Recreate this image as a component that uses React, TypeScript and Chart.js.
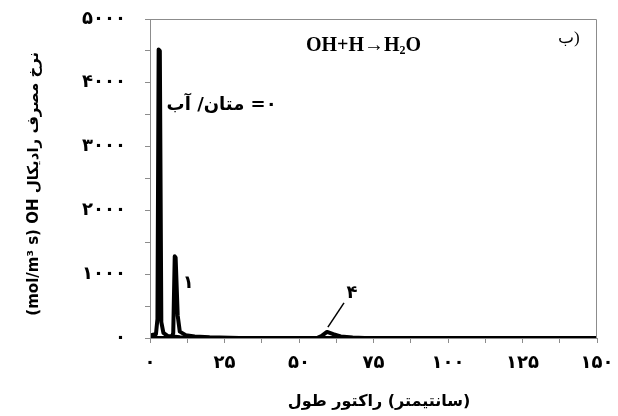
import React, { useEffect, useRef } from 'react';
import { Chart, registerables } from 'chart.js';

Chart.register(...registerables);

// Reactor length (cm) vs OH consumption rate (mol/m3 s)
const x0 = [0, 1, 2, 2.5, 2.9, 3.3, 3.8, 4.5, 6, 10, 20, 150];
const y0 = [40, 50, 60, 300, 4520, 4500, 250, 80, 30, 10, 0, 0];

const x1 = [0, 7.3, 7.8, 8.3, 8.6, 9.3, 10, 12, 15, 20, 30, 150];
const y1 = [0, 0, 80, 1280, 1260, 350, 100, 45, 25, 10, 0, 0];

const x4 = [0, 56, 57.5, 59.4, 61.5, 64, 68, 72, 150];
const y4 = [0, 0, 30, 95, 60, 25, 8, 0, 0];

const xTickLabels = ['۰', '۲۵', '۵۰', '۷۵', '۱۰۰', '۱۲۵', '۱۵۰'];
const yTickLabels = ['۰', '۱۰۰۰', '۲۰۰۰', '۳۰۰۰', '۴۰۰۰', '۵۰۰۰'];

const seriesNames = ['۰= متان/ آب', '۱', '۴'];
const xTitle = '\u00A0\u00A0طول\u200E \u200Eراکتور\u200E (\u200Eسانتیمتر\u200E)';
const yTitle = '(mol/m³ s) OH نرخ مصرف رادیکال\u00A0\u00A0';

const toPts = (xs: number[], ys: number[]) => xs.map((x, i) => ({ x, y: ys[i] }));

const GRAY = '#8c8c8c';

const overlay = {
  id: 'overlay',
  afterDatasetsDraw(chart: any) {
    const { ctx, chartArea: a, scales } = chart;
    const xs = scales.x;
    const ys = scales.y;
    ctx.save();
    // frame
    ctx.strokeStyle = GRAY;
    ctx.lineWidth = 1;
    ctx.beginPath();
    ctx.moveTo(a.left + 0.5, a.bottom);
    ctx.lineTo(a.left + 0.5, a.top + 0.5);
    ctx.lineTo(a.right - 0.5, a.top + 0.5);
    ctx.lineTo(a.right - 0.5, a.bottom);
    ctx.stroke();

    ctx.fillStyle = '#000';
    ctx.textBaseline = 'middle';
    // series labels
    ctx.font = 'bold 18px "DejaVu Sans", sans-serif';
    ctx.direction = 'rtl';
    ctx.textAlign = 'right';
    ctx.fillText(seriesNames[0], xs.getPixelForValue(42.5), ys.getPixelForValue(3650));
    ctx.direction = 'ltr';
    ctx.textAlign = 'center';
    ctx.fillText(seriesNames[1], xs.getPixelForValue(12.8), ys.getPixelForValue(860));
    ctx.fillText(seriesNames[2], xs.getPixelForValue(67.8), ys.getPixelForValue(700));
    // leader line
    ctx.strokeStyle = '#000';
    ctx.lineWidth = 1.5;
    ctx.beginPath();
    ctx.moveTo(xs.getPixelForValue(65.1), ys.getPixelForValue(550));
    ctx.lineTo(xs.getPixelForValue(59.7), ys.getPixelForValue(170));
    ctx.stroke();

    // reaction title
    ctx.textAlign = 'left';
    ctx.textBaseline = 'alphabetic';
    const big = 'bold 20px "Liberation Serif", serif';
    const small = 'bold 12px "Liberation Serif", serif';
    let px = 306;
    const py = 51;
    const parts: [string, string, number][] = [
      ['OH+H', big, 0],
      ['→', big, 0],
      ['H', big, 0],
      ['2', small, 3],
      ['O', big, 0],
    ];
    for (const [t, f, dy] of parts) {
      ctx.font = f;
      ctx.fillText(t, px, py + dy);
      px += ctx.measureText(t).width;
    }
    ctx.font = '17px "Liberation Serif", "DejaVu Serif", serif';
    ctx.fillText('ب\u200E)', 558, 43);
    ctx.restore();
  },
};

export default function App() {
  const ref = useRef<HTMLCanvasElement>(null);
  useEffect(() => {
    if (!ref.current) return;
    const tickFont = { family: '"DejaVu Sans", sans-serif', size: 18, weight: 'bold' as const };
    const chart = new Chart(ref.current, {
      type: 'line',
      data: {
        datasets: [
          { data: toPts(x0, y0) },
          { data: toPts(x1, y1) },
          { data: toPts(x4, y4) },
        ].map((d) => ({
          ...d,
          borderColor: '#000',
          backgroundColor: '#000',
          borderWidth: 4,
          pointRadius: 0,
          tension: 0,
          borderJoinStyle: 'round' as const,
          fill: false,
        })),
      },
      options: {
        responsive: false,
        animation: false,
        layout: { padding: { top: 19, right: 21, left: 0, bottom: 0 } },
        plugins: { legend: { display: false }, tooltip: { enabled: false } },
        scales: {
          x: {
            type: 'linear',
            min: 0,
            max: 150,
            afterFit: (s: any) => { s.height = 78; s.paddingLeft = 0; s.paddingRight = 0; },
            border: { display: true, color: GRAY },
            grid: { drawOnChartArea: false, drawTicks: true, tickLength: 5, color: GRAY },
            ticks: {
              stepSize: 12.5,
              autoSkip: false,
              maxRotation: 0,
              padding: 10,
              color: '#000',
              font: tickFont,
              callback: (v: any) => (Number(v) % 25 === 0 ? xTickLabels[Number(v) / 25] : ''),
            },
            title: {
              display: true,
              text: xTitle,
              color: '#000',
              font: { family: '"DejaVu Sans", sans-serif', size: 16, weight: 'bold' },
              padding: { top: 0, bottom: 5 },
            },
          },
          y: {
            type: 'linear',
            min: 0,
            max: 5000,
            afterFit: (s: any) => { s.width = 150; s.paddingTop = 0; s.paddingBottom = 0; },
            border: { display: true, color: GRAY },
            grid: { drawOnChartArea: false, drawTicks: true, tickLength: 5, color: GRAY },
            ticks: {
              stepSize: 500,
              autoSkip: false,
              padding: 19,
              color: '#000',
              font: tickFont,
              callback: (v: any) => (Number(v) % 1000 === 0 ? yTickLabels[Number(v) / 1000] : ''),
            },
            title: {
              display: true,
              text: yTitle,
              color: '#000',
              font: { family: '"DejaVu Sans", sans-serif', size: 15, weight: 'bold' },
              padding: { top: 25, bottom: 0 },
            },
          },
        },
      },
      plugins: [overlay],
    });
    return () => chart.destroy();
  }, []);
  return (
    <div style={{ position: 'fixed', left: 0, top: 0, width: 618, height: 416, background: '#fff' }}>
      <canvas ref={ref} width={618} height={416} style={{ display: 'block', width: 618, height: 416 }} />
    </div>
  );
}
